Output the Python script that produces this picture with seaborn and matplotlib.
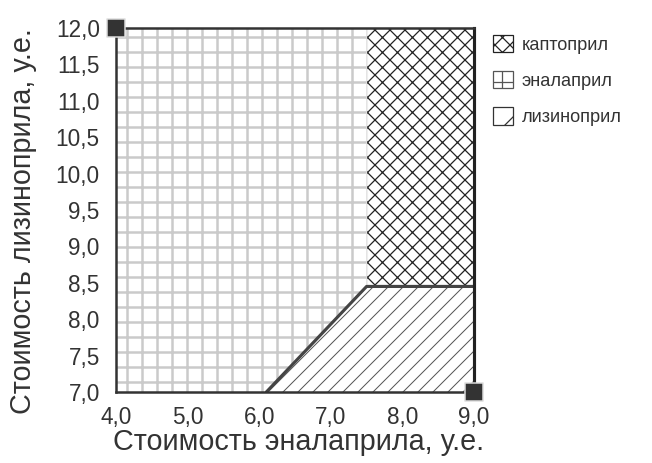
import matplotlib
matplotlib.use("Agg")
import matplotlib.pyplot as plt
import seaborn as sns
import pandas as pd
from matplotlib.patches import Patch

sns.set_style("white")
plt.rcParams['font.family'] = ['Liberation Sans', 'DejaVu Sans']
plt.rcParams['hatch.linewidth'] = 1.0

# Region boundaries (x: enalapril cost, y: lisinopril cost)
enalapril_x = [4.0, 6.1, 7.5, 7.5, 4.0]
enalapril_y = [7.0, 7.0, 8.45, 12.0, 12.0]
captopril_x = [7.5, 9.0, 9.0, 7.5]
captopril_y = [8.45, 8.45, 12.0, 12.0]
lisinopril_x = [6.1, 9.0, 9.0, 7.5]
lisinopril_y = [7.0, 7.0, 8.45, 8.45]
border_x = [6.1, 7.5, 9.0]
border_y = [7.0, 8.45, 8.45]
x_ticks = [4.0, 5.0, 6.0, 7.0, 8.0, 9.0]
y_ticks = [7.0, 7.5, 8.0, 8.5, 9.0, 9.5, 10.0, 10.5, 11.0, 11.5, 12.0]
labels = ["каптоприл", "эналаприл", "лизиноприл"]

fig = plt.figure(figsize=(652 / 90, 463 / 90), dpi=90)
ax = fig.add_axes([116 / 652, 1 - 392 / 463, (474 - 116) / 652, (392 - 28) / 463])

plt.rcParams['hatch.linewidth'] = 2.0
ax.fill(enalapril_x, enalapril_y, facecolor="white", edgecolor="#cacaca", hatch="+", linewidth=0, zorder=1)
plt.rcParams['hatch.linewidth'] = 1.0
ax.fill(captopril_x, captopril_y, facecolor="white", edgecolor="#222222", hatch="xx", linewidth=0, zorder=1)
plt.rcParams['hatch.linewidth'] = 0.8
ax.fill(lisinopril_x, lisinopril_y, facecolor="white", edgecolor="#555555", hatch="//", linewidth=0, zorder=1)
plt.rcParams['hatch.linewidth'] = 1.0

# boundaries
sns.lineplot(x=[7.5, 7.5], y=[8.45, 12.0], ax=ax, color="#aaaaaa", linewidth=2, sort=False, zorder=3)
sns.lineplot(x=border_x, y=border_y, ax=ax, color="#444444", linewidth=2.5, sort=False, zorder=4)

# corner markers
sns.scatterplot(x=[4.0, 9.0], y=[12.0, 7.0], ax=ax, marker="s", s=220, color="#333333",
                edgecolor="#dddddd", linewidth=1.2, zorder=6, clip_on=False)

ax.set_xlim(4.0, 9.0)
ax.set_ylim(7.0, 12.0)
ax.set_xticks(x_ticks)
ax.set_yticks(y_ticks)
ax.set_xticklabels([f"{v:.1f}".replace(".", ",") for v in x_ticks])
ax.set_yticklabels([f"{v:.1f}".replace(".", ",") for v in y_ticks])
ax.tick_params(axis="both", direction="out", width=1.5, color="#333333",
               labelsize=18, labelcolor="#333333")
ax.tick_params(axis="y", length=12, pad=1)
ax.tick_params(axis="x", length=5, pad=6)
for s in ax.spines.values():
    s.set_color("#333333")
    s.set_linewidth(2)
    s.set_zorder(5)
ax.spines["right"].set_linewidth(2.5)
ax.spines["right"].set_color("#222222")

ax.set_xlabel("Стоимость эналаприла, у.е.", fontsize=23, color="#333333")
ax.set_ylabel("Стоимость лизиноприла, у.е.", fontsize=23, color="#333333")
ax.xaxis.set_label_coords(0.51, -0.1)
ax.yaxis.set_label_coords(-0.222, 0.47)

handles = [
    Patch(facecolor="white", edgecolor="#222222", hatch="xx", label=labels[0]),
    Patch(facecolor="white", edgecolor="#555555", hatch="+", label=labels[1]),
    Patch(facecolor="white", edgecolor="#333333", hatch="/", label=labels[2]),
]
fig.legend(handles=handles, loc="upper left", bbox_to_anchor=(493 / 652, 1 - 35 / 463),
           frameon=False, fontsize=14.5, handlelength=1.1, handleheight=1.1,
           handletextpad=0.5, labelspacing=0.95, borderpad=0, borderaxespad=0,
           labelcolor="#333333")

fig.savefig("out.png", dpi=90)
